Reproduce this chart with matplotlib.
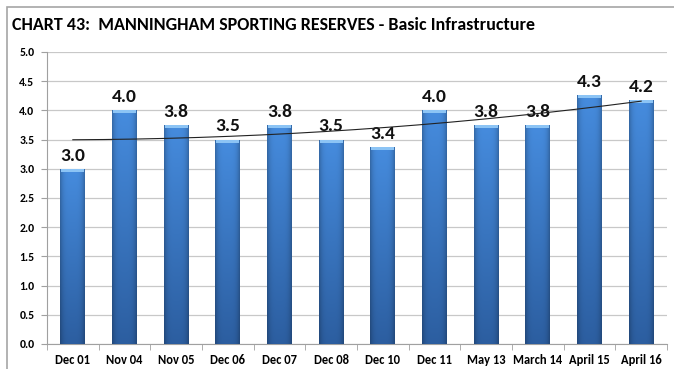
import matplotlib
matplotlib.use("Agg")
import matplotlib.pyplot as plt
from matplotlib.patches import Rectangle
import numpy as np

plt.rcParams['font.family'] = ['Carlito', 'Lato', 'DejaVu Sans']

# survey results, one per period
periods = ['Dec 01', 'Nov 04', 'Nov 05', 'Dec 06', 'Dec 07', 'Dec 08',
           'Dec 10', 'Dec 11', 'May 13', 'March 14', 'April 15', 'April 16']
scores = [3.0, 4.0, 3.75, 3.5, 3.75, 3.5, 3.37, 4.0, 3.75, 3.75, 4.26, 4.18]
y_ticks = [0.0, 0.5, 1.0, 1.5, 2.0, 2.5, 3.0, 3.5, 4.0, 4.5, 5.0]

W, H = 674, 369
fig = plt.figure(figsize=(W / 100, H / 100), dpi=100)
ax = fig.add_axes([47 / W, 1 - 344 / H, (667 - 47) / W, (344 - 52) / H])

x = np.arange(len(scores))
bw = 0.48

# gradient fill: lighter at the top, darker at the bottom, shaded edges
ny, nx = 200, 60
v = np.linspace(0, 1, ny)[:, None]          # 0 bottom .. 1 top
hpos = np.linspace(-1, 1, nx)[None, :]
edge = 1 - 0.25 * np.abs(hpos) ** 4
top_c = np.array([70, 140, 222]) / 255
bot_c = np.array([44, 94, 160]) / 255
grad = (bot_c[None, None, :] * (1 - v[..., None]) + top_c[None, None, :] * v[..., None])
grad = grad * edge[..., None]
grad = np.clip(grad, 0, 1)

bars = ax.bar(x, scores, width=bw, color='none', edgecolor='none', zorder=3)
for b, val in zip(bars, scores):
    x0 = b.get_x()
    im = ax.imshow(grad, extent=[x0, x0 + bw, 0, val], origin='lower',
                   aspect='auto', zorder=3, interpolation='bilinear')
    im.set_clip_path(b)
    # light cap on top of each bar
    ax.add_patch(Rectangle((x0 + 0.02, val - 0.05), bw - 0.04, 0.05,
                           color='#8cc4f5', lw=0, zorder=4))
    ax.text(b.get_x() + bw / 2, val + 0.09, f'{val:.1f}', ha='center', va='bottom',
            fontsize=14, fontweight='bold', color='#111111', zorder=5)

# second-order trend line through the scores
coef = np.polyfit(x, scores, 2)
xt = np.linspace(x[0], x[-1], 200)
ax.plot(xt, np.polyval(coef, xt), color='#222222', lw=0.8, zorder=6)

ax.set_xlim(-0.5, len(scores) - 0.5)
ax.set_ylim(0, 5)
ax.set_yticks(y_ticks)
ax.set_yticklabels([f'{t:.1f}' for t in y_ticks], fontsize=8.5, fontweight='bold')
ax.set_xticks(x)
ax.set_xticklabels(periods, fontsize=9, fontweight='bold')
ax.set_xticks(np.arange(len(scores) + 1) - 0.5, minor=True)
ax.tick_params(axis='x', which='major', length=0, pad=7)
ax.tick_params(axis='x', which='minor', length=4, color='#a0a0a0')
ax.tick_params(axis='y', length=4, color='#a0a0a0', pad=5)
ax.grid(axis='y', color='#c8c8c8', lw=0.9, zorder=0)
ax.set_axisbelow(True)
for s in ['top', 'right']:
    ax.spines[s].set_visible(False)
for s in ['left', 'bottom']:
    ax.spines[s].set_color('#a0a0a0')

# outer chart border
fig.patches.append(Rectangle((7 / W, -0.1), 1.1, 1 - 7 / H + 0.1,
                             transform=fig.transFigure, fill=False,
                             edgecolor='#a6a6a6', lw=1.2))

fig.text(12 / W, 1 - 25 / H, 'CHART 43:  MANNINGHAM SPORTING RESERVES - Basic Infrastructure',
         fontsize=13, fontweight='bold', va='center', ha='left')

fig.savefig('out.png', dpi=100)
